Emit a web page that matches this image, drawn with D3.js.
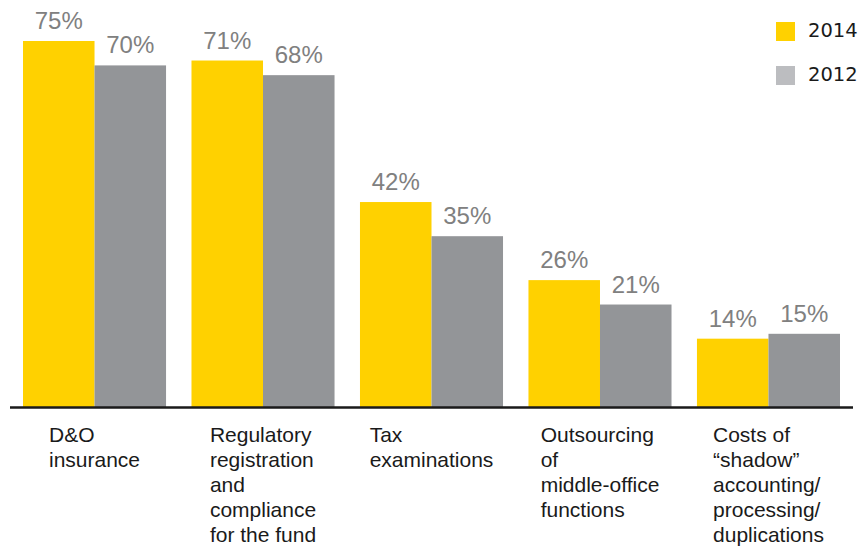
<!DOCTYPE html>
<html>
<head>
<meta charset="utf-8">
<script src="https://cdn.jsdelivr.net/npm/d3@7"></script>
<style>
  body { margin: 0; background: #fff; }
  svg { display: block; }
</style>
</head>
<body>
<div id="chart"></div>
<script>
const categories = [
  ["D&O", "insurance"],
  ["Regulatory", "registration", "and", "compliance", "for the fund"],
  ["Tax", "examinations"],
  ["Outsourcing", "of", "middle-office", "functions"],
  ["Costs of", "\u201Cshadow\u201D", "accounting/", "processing/", "duplications"]
];
const years = ["2014", "2012"];
const values2014 = [75, 71, 42, 26, 14];
const values2012 = [70, 68, 35, 21, 15];

const width = 861, height = 549;
const baseY = 407;
const colors = { "2014": "#FFD100", "2012": "#939598" };
const legendColors = { "2014": "#FFD100", "2012": "#BCBDC0" };

const svg = d3.select("#chart").append("svg")
    .attr("width", width)
    .attr("height", height);

const x0 = d3.scaleBand()
    .domain(d3.range(categories.length))
    .range([23, 840])
    .paddingInner(0.151)
    .paddingOuter(0);

const x1 = d3.scaleBand()
    .domain(years)
    .range([0, x0.bandwidth()]);

const y = d3.scaleLinear()
    .domain([0, 75])
    .range([baseY, 41]);

const rows = categories.map((c, i) => ({
    i: i,
    values: [{ year: "2014", v: values2014[i] }, { year: "2012", v: values2012[i] }]
}));

const groups = svg.append("g")
    .selectAll("g")
    .data(rows)
    .join("g")
    .attr("transform", d => `translate(${x0(d.i)},0)`);

groups.selectAll("rect")
    .data(d => d.values)
    .join("rect")
    .attr("x", d => x1(d.year))
    .attr("y", d => y(d.v))
    .attr("width", x1.bandwidth())
    .attr("height", d => baseY - y(d.v))
    .attr("fill", d => colors[d.year]);

groups.selectAll("text.val")
    .data(d => d.values)
    .join("text")
    .attr("class", "val")
    .attr("x", d => x1(d.year) + x1.bandwidth() / 2)
    .attr("y", d => y(d.v) - 12)
    .attr("text-anchor", "middle")
    .attr("font-family", "Liberation Sans, Arial, sans-serif")
    .attr("font-size", 24)
    .attr("fill", "#808080")
    .text(d => d.v + "%");

// baseline
svg.append("line")
    .attr("x1", 10)
    .attr("x2", 853)
    .attr("y1", baseY + 0.5)
    .attr("y2", baseY + 0.5)
    .attr("stroke", "#1a1a1a")
    .attr("stroke-width", 2.5);

// category labels: left aligned block, roughly centred on the group
const labels = svg.append("g")
    .selectAll("text")
    .data(categories)
    .join("text")
    .attr("font-family", "Liberation Sans, Arial, sans-serif")
    .attr("font-size", 21)
    .attr("fill", "#1a1a1a");

labels.each(function(lines, i) {
    const t = d3.select(this);
    t.selectAll("tspan")
        .data(lines)
        .join("tspan")
        .attr("x", 0)
        .attr("y", (d, j) => 442 + j * 25)
        .text(d => d);
    let w = 0;
    t.selectAll("tspan").each(function() { w = Math.max(w, this.getComputedTextLength()); });
    const cx = x0(i) + x0.bandwidth() / 2;
    t.attr("transform", `translate(${cx - w / 2},0)`);
});

// legend
const legend = svg.append("g")
    .selectAll("g")
    .data(years)
    .join("g")
    .attr("transform", (d, i) => `translate(776,${22 + i * 44})`);

legend.append("rect")
    .attr("width", 19)
    .attr("height", 19)
    .attr("fill", d => legendColors[d]);

legend.append("text")
    .attr("x", 32)
    .attr("y", 15)
    .attr("font-family", "DejaVu Sans, Verdana, sans-serif")
    .attr("font-size", 19.5)
    .attr("fill", "#1a1a1a")
    .text(d => d);
</script>
</body>
</html>
